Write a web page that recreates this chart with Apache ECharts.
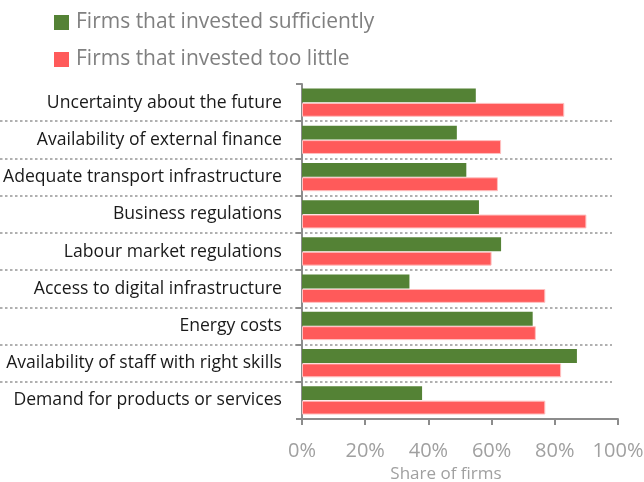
<!DOCTYPE html>
<html>
<head>
<meta charset="utf-8">
<script src="https://cdn.jsdelivr.net/npm/echarts@6/dist/echarts.min.js"></script>
<style>html,body{margin:0;padding:0;background:#fff}#chart{width:644px;height:482px}</style>
</head>
<body>
<div id="chart"></div>
<script>
const categories = [
  'Uncertainty about the future',
  'Availability of external finance',
  'Adequate transport infrastructure',
  'Business regulations',
  'Labour market regulations',
  'Access to digital infrastructure',
  'Energy costs',
  'Availability of staff with right skills',
  'Demand for products or services'
];
const sufficient = [55, 49, 52, 56, 63, 34, 73, 87, 38];
const tooLittle = [83, 63, 62, 90, 60, 77, 74, 82, 77];
const seriesNames = ['Firms that invested sufficiently', 'Firms that invested too little'];
const xTicks = [0, 20, 40, 60, 80, 100];

const FONT = 'Open Sans';
const chart = echarts.init(document.getElementById('chart'));
chart.setOption({
  animation: false,
  textStyle: { fontFamily: FONT },
  legend: {
    orient: 'vertical', left: 54, top: 12, padding: 0,
    itemWidth: 15, itemHeight: 15, itemGap: 16,
    icon: 'rect',
    itemStyle: { borderWidth: 0 },
    textStyle: { fontSize: 21, color: '#808080', fontFamily: FONT, padding: [0, 0, 0, 2] },
    data: seriesNames
  },
  grid: [
    { left: 302, right: 26, top: 84, bottom: 63, outerBoundsMode: 'none', containLabel: false },
    { left: 0, right: 32, top: 84, bottom: 63, outerBoundsMode: 'none', containLabel: false }
  ],
  xAxis: [
    {
      gridIndex: 0, type: 'value', min: xTicks[0], max: xTicks[xTicks.length - 1], interval: 20,
      axisLine: { show: true, lineStyle: { color: '#8c8c8c', width: 2 } },
      axisTick: { show: true, length: 6, lineStyle: { color: '#8c8c8c', width: 2 } },
      splitLine: { show: false },
      axisLabel: { formatter: '{value}%', fontSize: 20, color: '#a0a0a0', margin: 22, fontFamily: FONT },
      name: 'Share of firms', nameLocation: 'middle', nameGap: 47,
      nameTextStyle: { fontSize: 17, color: '#a0a0a0', fontFamily: FONT, padding: [0, 28, 0, 0] }
    },
    { gridIndex: 1, type: 'value', show: false, min: 0, max: 100 }
  ],
  yAxis: [
    {
      gridIndex: 0, type: 'category', data: categories, inverse: true,
      axisLine: { show: true, lineStyle: { color: '#8c8c8c', width: 2 } },
      axisTick: { show: true, length: 6, lineStyle: { color: '#8c8c8c', width: 2 } },
      splitLine: { show: false },
      axisLabel: { fontSize: 17.6, color: '#1a1a1a', margin: 20, fontFamily: FONT }
    },
    {
      gridIndex: 1, type: 'category', data: categories, inverse: true,
      axisLine: { show: false }, axisTick: { show: false }, axisLabel: { show: false },
      splitLine: { show: true, showMinLine: false, showMaxLine: false,
        lineStyle: { color: '#b0b0b0', width: 2, type: [2.5, 2.5] } }
    }
  ],
  series: [
    {
      name: seriesNames[0], type: 'bar', xAxisIndex: 0, yAxisIndex: 0,
      data: sufficient, barGap: '4%', barCategoryGap: '24%',
      itemStyle: { color: '#548235' }
    },
    {
      name: seriesNames[1], type: 'bar', xAxisIndex: 0, yAxisIndex: 0,
      data: tooLittle, barGap: '4%', barCategoryGap: '24%',
      itemStyle: { color: '#ff5a5a', borderColor: '#ffc0c0', borderWidth: 1 }
    }
  ]
});
</script>
</body>
</html>
